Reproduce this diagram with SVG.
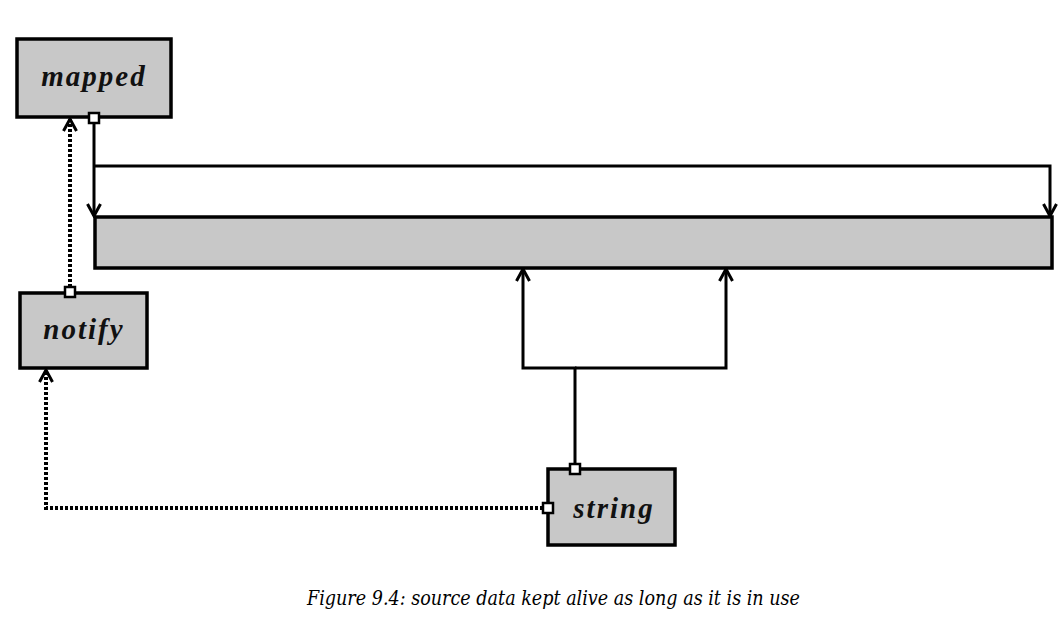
<svg xmlns="http://www.w3.org/2000/svg" width="1061" height="630" viewBox="0 0 1061 630">
<style>
.box{fill:#c8c8c8;stroke:#000;stroke-width:3.5}
.lbl{font-family:"Liberation Serif","DejaVu Serif",serif;font-style:italic;font-weight:bold;font-size:29px;letter-spacing:2px;fill:#111;text-anchor:middle}
.solid{fill:none;stroke:#000;stroke-width:3}
.dot{fill:none;stroke:#000;stroke-width:4;stroke-dasharray:3 2}
.port{fill:#fff;stroke:#000;stroke-width:2.5}
.cap{font-family:"DejaVu Serif","Liberation Serif",serif;font-style:italic;font-size:21px;fill:#000}
</style>
<defs>
<marker id="arr" viewBox="0 0 16 16" refX="14" refY="8" markerWidth="16" markerHeight="16" markerUnits="userSpaceOnUse" orient="auto">
<path d="M2,1.5 L14,8 L2,14.5" fill="none" stroke="#000" stroke-width="3"/>
</marker>
</defs>
<rect width="1061" height="630" fill="#fff"/>
<g id="bar"><rect class="box" x="95" y="217" width="957" height="51"/></g>
<g id="mapped"><rect class="box" x="17" y="39" width="154" height="78"/><text class="lbl" x="94" y="86">mapped</text></g>
<g id="notify"><rect class="box" x="20" y="293" width="127" height="75"/><text class="lbl" x="84" y="339">notify</text></g>
<g id="string"><rect class="box" x="548" y="469" width="127" height="76"/><text class="lbl" x="614" y="518">string</text></g>
<g id="connectors">
<path class="solid" d="M94,124 V216" marker-end="url(#arr)"/>
<path class="solid" d="M94,166 H1050 V216" marker-end="url(#arr)"/>
<path class="solid" d="M575,464 V368 H523 V269" marker-end="url(#arr)"/>
<path class="solid" d="M575,368 H726 V269" marker-end="url(#arr)"/>
<path class="dot" d="M70,287 V119" marker-end="url(#arr)"/>
<path class="dot" d="M543,508 H46 V370" marker-end="url(#arr)"/>
<rect class="port" x="89" y="113" width="10" height="10"/>
<rect class="port" x="65" y="287" width="10" height="10"/>
<rect class="port" x="570" y="464" width="10" height="10"/>
<rect class="port" x="543" y="503" width="10" height="10"/>
</g>
<text class="cap" x="307" y="605" textLength="493" lengthAdjust="spacingAndGlyphs">Figure 9.4: source data kept alive as long as it is in use</text>
</svg>
